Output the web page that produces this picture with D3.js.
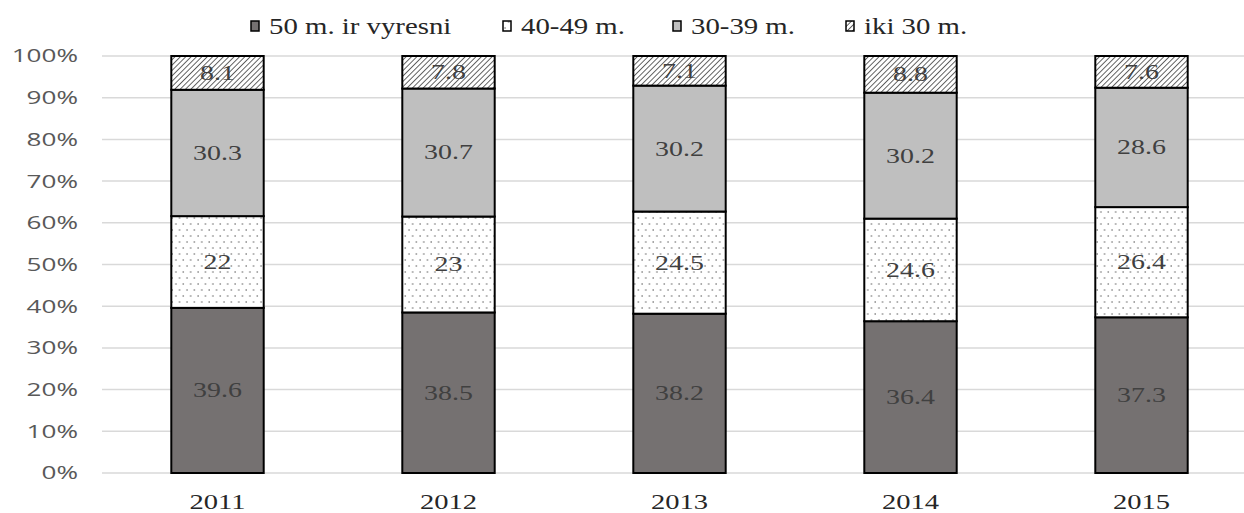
<!DOCTYPE html>
<html>
<head>
<meta charset="utf-8">
<style>
  body { margin: 0; background: #fff; }
</style>
</head>
<body>
<script src="https://cdn.jsdelivr.net/npm/d3@7"></script>
<script>
// data
var years = ["2011", "2012", "2013", "2014", "2015"];
var seriesNames = ["50 m. ir vyresni", "40-49 m.", "30-39 m.", "iki 30 m."];
var v50 = [39.6, 38.5, 38.2, 36.4, 37.3];
var v40 = [22, 23, 24.5, 24.6, 26.4];
var v30 = [30.3, 30.7, 30.2, 30.2, 28.6];
var vUnder30 = [8.1, 7.8, 7.1, 8.8, 7.6];
var yTicks = [0, 10, 20, 30, 40, 50, 60, 70, 80, 90, 100];

var width = 1244, height = 513;
var serif = "'Liberation Serif', 'Times New Roman', serif";
var svg = d3.select("body").append("svg")
    .attr("width", width)
    .attr("height", height);

// the original picture is stretched sideways, so text gets a horizontal scale
function stretched(sel, sx) {
    return sel.attr("transform", "scale(" + sx + ",1)");
}

var defs = svg.append("defs");
// dotted fill
var dots = defs.append("pattern").attr("id", "dots")
    .attr("patternUnits", "userSpaceOnUse")
    .attr("width", 7.4).attr("height", 12);
dots.append("rect").attr("width", 7.4).attr("height", 12).attr("fill", "#fff");
dots.append("circle").attr("cx", 2).attr("cy", 2).attr("r", 0.8).attr("fill", "#666");
dots.append("circle").attr("cx", 5.7).attr("cy", 8).attr("r", 0.8).attr("fill", "#666");
// hatched fill
var hatch = defs.append("pattern").attr("id", "hatch")
    .attr("patternUnits", "userSpaceOnUse")
    .attr("width", 3.8).attr("height", 3.8)
    .attr("patternTransform", "rotate(45)");
hatch.append("rect").attr("width", 3.8).attr("height", 3.8).attr("fill", "#fff");
hatch.append("line").attr("x1", 0).attr("y1", 0).attr("x2", 0).attr("y2", 3.8)
    .attr("stroke", "#222").attr("stroke-width", 1.4);

var fills = ["#757171", "url(#dots)", "#bfbfbf", "url(#hatch)"];
var rows = years.map(function(y, i) {
    return { year: y, s0: v50[i], s1: v40[i], s2: v30[i], s3: vUnder30[i] };
});
var keys = ["s0", "s1", "s2", "s3"];
var stack = d3.stack().keys(keys).offset(d3.stackOffsetExpand);
var layers = stack(rows);

var x = d3.scaleBand().domain(years).range([102, 1257])
    .paddingInner(0.6).paddingOuter(0.3);
var y = d3.scaleLinear().domain([0, 1]).range([473, 56]);

// grid
svg.append("g").selectAll("line")
    .data(yTicks)
    .join("line")
    .attr("x1", 102).attr("x2", 1244)
    .attr("y1", d => y(d / 100)).attr("y2", d => y(d / 100))
    .attr("stroke", "#d9d9d9").attr("stroke-width", 1.5);

// y axis labels
var yl = svg.append("g").selectAll("g")
    .data(yTicks)
    .join("g")
    .attr("transform", d => "translate(78," + y(d / 100) + ")");
stretched(yl.append("text"), 1.45)
    .attr("dy", "0.36em")
    .attr("text-anchor", "end")
    .attr("font-family", "'Open Sans', sans-serif")
    .attr("font-size", 18)
    .attr("fill", "#595959")
    .text(d => d + "%");

// bars
var gl = svg.append("g").selectAll("g")
    .data(layers)
    .join("g");
gl.selectAll("rect")
    .data((L, li) => L.map(d => ({ d: d, li: li })))
    .join("rect")
    .attr("x", o => x(o.d.data.year))
    .attr("width", x.bandwidth())
    .attr("y", o => y(o.d[1]))
    .attr("height", o => y(o.d[0]) - y(o.d[1]))
    .attr("fill", o => fills[o.li])
    .attr("stroke", "#000")
    .attr("stroke-width", 2);

// value labels
var vl = gl.selectAll("g")
    .data((L, li) => L.map(d => ({ d: d, li: li })))
    .join("g")
    .attr("transform", o => "translate(" + (x(o.d.data.year) + x.bandwidth() / 2) + "," + y((o.d[0] + o.d[1]) / 2) + ")");
stretched(vl.append("text"), 1.33)
    .attr("dy", "0.33em")
    .attr("text-anchor", "middle")
    .attr("font-family", serif)
    .attr("font-size", 21)
    .attr("fill", "#404040")
    .text(o => o.d.data[keys[o.li]]);

// x labels
var xl = svg.append("g").selectAll("g")
    .data(years)
    .join("g")
    .attr("transform", d => "translate(" + (x(d) + x.bandwidth() / 2) + ",509)");
stretched(xl.append("text"), 1.36)
    .attr("text-anchor", "middle")
    .attr("font-family", serif)
    .attr("font-size", 21)
    .attr("fill", "#262626")
    .text(d => d);

// legend
var legendX = [251, 503, 673, 846];
var lg = svg.append("g").selectAll("g")
    .data(seriesNames)
    .join("g")
    .attr("transform", (d, i) => "translate(" + legendX[i] + ",26)");
lg.append("rect")
    .attr("x", 0).attr("y", -5).attr("width", 8).attr("height", 10)
    .attr("fill", (d, i) => fills[i])
    .attr("stroke", "#000").attr("stroke-width", 1.5);
stretched(lg.append("g").attr("transform", "translate(18,0)").append("text"), 1.2)
    .attr("dy", "0.33em")
    .attr("font-family", serif)
    .attr("font-size", 24)
    .attr("fill", "#262626")
    .text(d => d);
</script>
</body>
</html>
